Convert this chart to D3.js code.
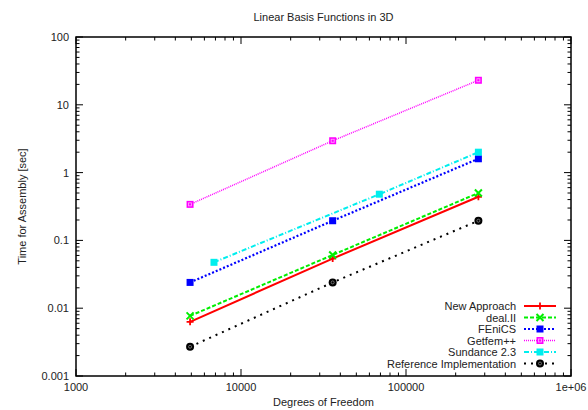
<!DOCTYPE html>
<html>
<head>
<meta charset="utf-8">
<script src="https://cdn.jsdelivr.net/npm/d3@7"></script>
<style>
  body { margin: 0; background: #fff; }
  text { font-family: "Liberation Sans", Arial, sans-serif; }
</style>
</head>
<body>
<div id="chart"></div>
<script>
// data
const dofs = [4913, 35937, 274625];
const sundanceDofs = [6859, 68921, 274625];
const newApproach = [0.0063, 0.054, 0.44];
const dealII = [0.0077, 0.061, 0.50];
const fenics = [0.024, 0.195, 1.6];
const getfem = [0.34, 2.95, 23];
const sundance = [0.0475, 0.48, 2.0];
const reference = [0.0027, 0.024, 0.195];

const seriesNames = ["New Approach", "deal.II", "FEniCS", "Getfem++", "Sundance 2.3", "Reference Implementation"];
const xTicks = [1000, 10000, 100000, 1000000];
const xTickLabels = ["1000", "10000", "100000", "1e+06"];
const yTicks = [0.001, 0.01, 0.1, 1, 10, 100];
const yTickLabels = ["0.001", "0.01", "0.1", "1", "10", "100"];

const margin = {top: 37, right: 17, bottom: 34, left: 76};
const width = 588 - margin.left - margin.right;
const height = 410 - margin.top - margin.bottom;

const styles = [
  {color: "#ff0000", dash: null, lw: 2, marker: "plus"},
  {color: "#00ee00", dash: "4,2", lw: 2, marker: "cross"},
  {color: "#0000ff", dash: "2,2", lw: 2.2, marker: "square"},
  {color: "#ff00ff", dash: "1,1", lw: 1.5, marker: "squareOpen"},
  {color: "#00eeee", dash: "5,2,1,2", lw: 2, marker: "square"},
  {color: "#000000", dash: "2,5", lw: 2, marker: "circle"}
];

const series = [
  {x: dofs, y: newApproach},
  {x: dofs, y: dealII},
  {x: dofs, y: fenics},
  {x: dofs, y: getfem},
  {x: sundanceDofs, y: sundance},
  {x: dofs, y: reference}
];

const svg = d3.select("#chart")
  .append("svg")
    .attr("width", 588)
    .attr("height", 410);

const g = svg.append("g")
  .attr("transform", `translate(${margin.left}, ${margin.top})`);

const x = d3.scaleLog().domain([1000, 1000000]).range([0, width]);
const y = d3.scaleLog().domain([0.001, 100]).range([height, 0]);

// minor + major ticks, mirrored on all sides (inward)
function minors(lo, hi) {
  const out = [];
  for (let d = lo; d < hi; d *= 10) {
    for (let k = 2; k <= 9; k++) out.push(d * k);
  }
  return out;
}
const xMinor = minors(1000, 1000000);
const yMinor = minors(0.001, 100);

const tickG = g.append("g").attr("stroke", "#000").attr("stroke-width", 1);
xTicks.forEach(v => {
  tickG.append("line").attr("x1", x(v)).attr("x2", x(v)).attr("y1", height).attr("y2", height - 7);
  tickG.append("line").attr("x1", x(v)).attr("x2", x(v)).attr("y1", 0).attr("y2", 7);
});
xMinor.forEach(v => {
  tickG.append("line").attr("x1", x(v)).attr("x2", x(v)).attr("y1", height).attr("y2", height - 3.5);
  tickG.append("line").attr("x1", x(v)).attr("x2", x(v)).attr("y1", 0).attr("y2", 3.5);
});
yTicks.forEach(v => {
  tickG.append("line").attr("x1", 0).attr("x2", 7).attr("y1", y(v)).attr("y2", y(v));
  tickG.append("line").attr("x1", width).attr("x2", width - 7).attr("y1", y(v)).attr("y2", y(v));
});
yMinor.forEach(v => {
  tickG.append("line").attr("x1", 0).attr("x2", 3.5).attr("y1", y(v)).attr("y2", y(v));
  tickG.append("line").attr("x1", width).attr("x2", width - 3.5).attr("y1", y(v)).attr("y2", y(v));
});

// tick labels
g.append("g").selectAll("text")
  .data(xTicks)
  .enter()
  .append("text")
    .attr("x", d => x(d))
    .attr("y", height + 15)
    .attr("text-anchor", "middle")
    .style("font-size", "11px")
    .style("fill", "#222")
    .text((d, i) => xTickLabels[i]);

g.append("g").selectAll("text")
  .data(yTicks)
  .enter()
  .append("text")
    .attr("x", -7)
    .attr("y", d => y(d) + 4)
    .attr("text-anchor", "end")
    .style("font-size", "11px")
    .style("fill", "#222")
    .text((d, i) => yTickLabels[i]);

// series
const line = d3.line().x(d => x(d[0])).y(d => y(d[1]));

function drawMarker(sel, type, color, cx, cy) {
  if (type === "plus") {
    sel.append("path").attr("d", `M${cx-3.5},${cy}H${cx+3.5}M${cx},${cy-3.5}V${cy+3.5}`)
      .attr("stroke", color).attr("stroke-width", 1.8).attr("fill", "none");
  } else if (type === "cross") {
    sel.append("path").attr("d", `M${cx-3.5},${cy-3.5}L${cx+3.5},${cy+3.5}M${cx-3.5},${cy+3.5}L${cx+3.5},${cy-3.5}`)
      .attr("stroke", color).attr("stroke-width", 2).attr("fill", "none");
  } else if (type === "square") {
    sel.append("rect").attr("x", cx - 3.5).attr("y", cy - 3.5).attr("width", 7).attr("height", 7)
      .attr("fill", color);
  } else if (type === "squareOpen") {
    sel.append("rect").attr("x", cx - 3.5).attr("y", cy - 3.5).attr("width", 7).attr("height", 7)
      .attr("fill", color);
    sel.append("rect").attr("x", cx - 1.5).attr("y", cy - 1.5).attr("width", 3).attr("height", 3)
      .attr("fill", "none").attr("stroke", "#ffb0ff").attr("stroke-width", 0.8);
  } else if (type === "circle") {
    sel.append("circle").attr("cx", cx).attr("cy", cy).attr("r", 4).attr("fill", color);
    sel.append("circle").attr("cx", cx).attr("cy", cy).attr("r", 1.5)
      .attr("fill", "none").attr("stroke", "#888").attr("stroke-width", 0.8);
  }
}

series.forEach((s, i) => {
  const st = styles[i];
  const pts = s.x.map((v, j) => [v, s.y[j]]);
  g.append("path")
    .datum(pts)
    .attr("d", line)
    .attr("fill", "none")
    .attr("stroke", st.color)
    .attr("stroke-width", st.lw)
    .attr("stroke-dasharray", st.dash);
  const mg = g.append("g");
  pts.forEach(p => drawMarker(mg, st.marker, st.color, x(p[0]), y(p[1])));
});

// legend
const legX = 516 - margin.left;
const legY0 = 306 - margin.top;
const legStep = 11.5;
const leg = g.append("g");
seriesNames.forEach((name, i) => {
  const st = styles[i];
  const ly = legY0 + i * legStep;
  leg.append("text")
    .attr("x", legX)
    .attr("y", ly + 4)
    .attr("text-anchor", "end")
    .style("font-size", "11px")
    .style("fill", "#222")
    .text(name);
  leg.append("line")
    .attr("x1", legX + 8).attr("x2", legX + 40)
    .attr("y1", ly).attr("y2", ly)
    .attr("stroke", st.color)
    .attr("stroke-width", st.lw)
    .attr("stroke-dasharray", st.dash);
  drawMarker(leg, st.marker, st.color, legX + 24, ly);
});

// frame
g.append("rect")
  .attr("width", width)
  .attr("height", height)
  .attr("fill", "none")
  .attr("stroke", "#000")
  .attr("stroke-width", 1.5);

// titles
svg.append("text")
  .attr("x", margin.left + width / 2)
  .attr("y", 21)
  .attr("text-anchor", "middle")
  .style("font-size", "11px")
  .style("fill", "#222")
  .text("Linear Basis Functions in 3D");

svg.append("text")
  .attr("x", margin.left + width / 2)
  .attr("y", 406)
  .attr("text-anchor", "middle")
  .style("font-size", "11px")
  .style("fill", "#222")
  .text("Degrees of Freedom");

svg.append("text")
  .attr("transform", `translate(26, ${margin.top + height / 2}) rotate(-90)`)
  .attr("text-anchor", "middle")
  .style("font-size", "11px")
  .style("fill", "#222")
  .text("Time for Assembly [sec]");
</script>
</body>
</html>
